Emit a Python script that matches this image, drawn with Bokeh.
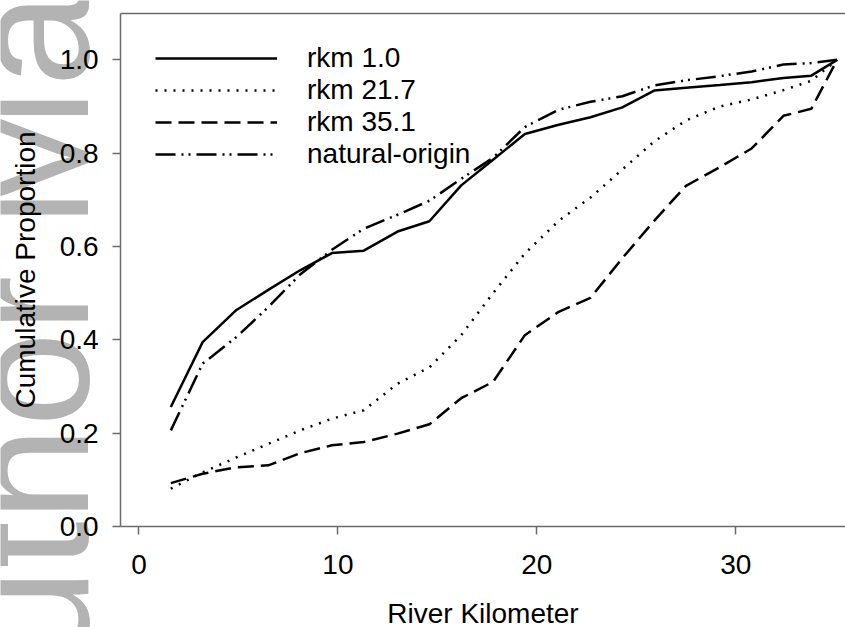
from bokeh.plotting import figure
from bokeh.models import Range1d, LinearAxis, FixedTicker, Label, Legend, LegendItem
from bokeh.embed import file_html
from bokeh.resources import INLINE

# ---- data ----
river_km = [1.6, 3.2, 4.9, 6.5, 8.1, 9.7, 11.3, 13.0, 14.6, 16.2, 17.8,
            19.4, 21.1, 22.7, 24.3, 25.9, 27.5, 29.2, 30.8, 32.4, 33.8, 35.1]
rkm_1_0 = [0.256, 0.395, 0.464, 0.507, 0.549, 0.586, 0.591, 0.632, 0.654, 0.731, 0.786,
           0.841, 0.861, 0.877, 0.898, 0.934, 0.940, 0.946, 0.952, 0.961, 0.966, 1.0]
rkm_21_7 = [0.081, 0.116, 0.148, 0.177, 0.206, 0.231, 0.249, 0.306, 0.341, 0.410, 0.500,
            0.585, 0.655, 0.705, 0.765, 0.825, 0.870, 0.900, 0.915, 0.935, 0.955, 1.0]
rkm_35_1 = [0.093, 0.113, 0.127, 0.131, 0.157, 0.174, 0.181, 0.199, 0.219, 0.275, 0.310,
            0.410, 0.460, 0.490, 0.575, 0.655, 0.730, 0.770, 0.810, 0.880, 0.895, 1.0]
natural_origin = [0.206, 0.349, 0.406, 0.470, 0.540, 0.593, 0.638, 0.668, 0.698, 0.745, 0.790,
                  0.856, 0.893, 0.910, 0.922, 0.945, 0.956, 0.965, 0.975, 0.990, 0.993, 1.0]
series_names = ["rkm 1.0", "rkm 21.7", "rkm 35.1", "natural-origin"]
x_ticks = [0, 10, 20, 30]
y_ticks = [0.0, 0.2, 0.4, 0.6, 0.8, 1.0]

FONT = "Liberation Sans"
AX = "#6b6b6b"

# axes box: x from -0.92 to the right edge, y from 0 to 1.1
X0, Y0, Y1 = -0.92, 0.0, 1.1

p = figure(width=845, height=627, output_backend="svg", toolbar_location=None,
           x_range=Range1d(-6.963, 35.52), y_range=Range1d(-0.2164, 1.1271),
           min_border_left=0, min_border_top=0, min_border_bottom=0,
           min_border_right=0, x_axis_location=None, y_axis_location=None)
p.outline_line_color = None
p.xgrid.grid_line_color = None
p.ygrid.grid_line_color = None
p.background_fill_color = "white"
p.border_fill_color = "white"

# watermark (beneath everything)
wm = Label(x=28, y=-149, x_units="screen", y_units="screen", text="Author Manuscript",
           angle=1.5707963, text_font=FONT, text_font_size="170px",
           text_color="#b3b3b3", text_align="left", text_baseline="alphabetic",
           level="underlay")
p.add_layout(wm)

styles = [
    dict(y=rkm_1_0, dash="solid"),
    dict(y=rkm_21_7, dash="2 7"),
    dict(y=rkm_35_1, dash="16 7"),
    dict(y=natural_origin, dash="20 6 2 5 2 6"),
]
items = []
for name, st in zip(series_names, styles):
    r = p.line(river_km, st["y"], line_color="black", line_width=2.5,
               line_dash=st["dash"])
    items.append(LegendItem(label=name, renderers=[r]))

legend = Legend(items=items, location=(155, 457), margin=0, padding=0,
                border_line_color=None, background_fill_alpha=0,
                glyph_width=122, glyph_height=28, label_height=28,
                label_standoff=30, spacing=-1,
                label_text_font=FONT, label_text_font_size="28px",
                label_text_color="black")
p.add_layout(legend)

xaxis = LinearAxis(fixed_location=Y0, bounds=(X0, 35.9),
                   ticker=FixedTicker(ticks=x_ticks), axis_label="River Kilometer")
yaxis = LinearAxis(fixed_location=X0, bounds=(Y0, Y1),
                   ticker=FixedTicker(ticks=y_ticks), axis_label="Cumulative Proportion",
                   major_label_overrides={v: f"{v:.1f}" for v in y_ticks})
for ax in (xaxis, yaxis):
    ax.axis_line_color = AX
    ax.axis_line_width = 1.5
    ax.major_tick_line_color = AX
    ax.major_tick_line_width = 1.5
    ax.major_tick_in = 0
    ax.major_tick_out = 8
    ax.minor_tick_line_color = None
    ax.major_label_text_font = FONT
    ax.major_label_text_font_size = "28px"
    ax.major_label_text_color = "black"
    ax.axis_label_text_font = FONT
    ax.axis_label_text_font_size = "28px"
    ax.axis_label_text_font_style = "normal"
    ax.axis_label_text_color = "black"
xaxis.major_label_standoff = 20
xaxis.axis_label_standoff = 21
yaxis.major_label_standoff = 14
yaxis.axis_label_standoff = 16
p.add_layout(xaxis, "below")
p.add_layout(yaxis, "left")

top = LinearAxis(fixed_location=Y1, bounds=(X0, 35.9), ticker=FixedTicker(ticks=[]),
                 axis_line_color=AX, axis_line_width=1.5,
                 major_tick_line_color=None, minor_tick_line_color=None,
                 major_label_text_font_size="0px")
p.add_layout(top, "above")

open("out.html", "w").write(file_html(p, INLINE))
